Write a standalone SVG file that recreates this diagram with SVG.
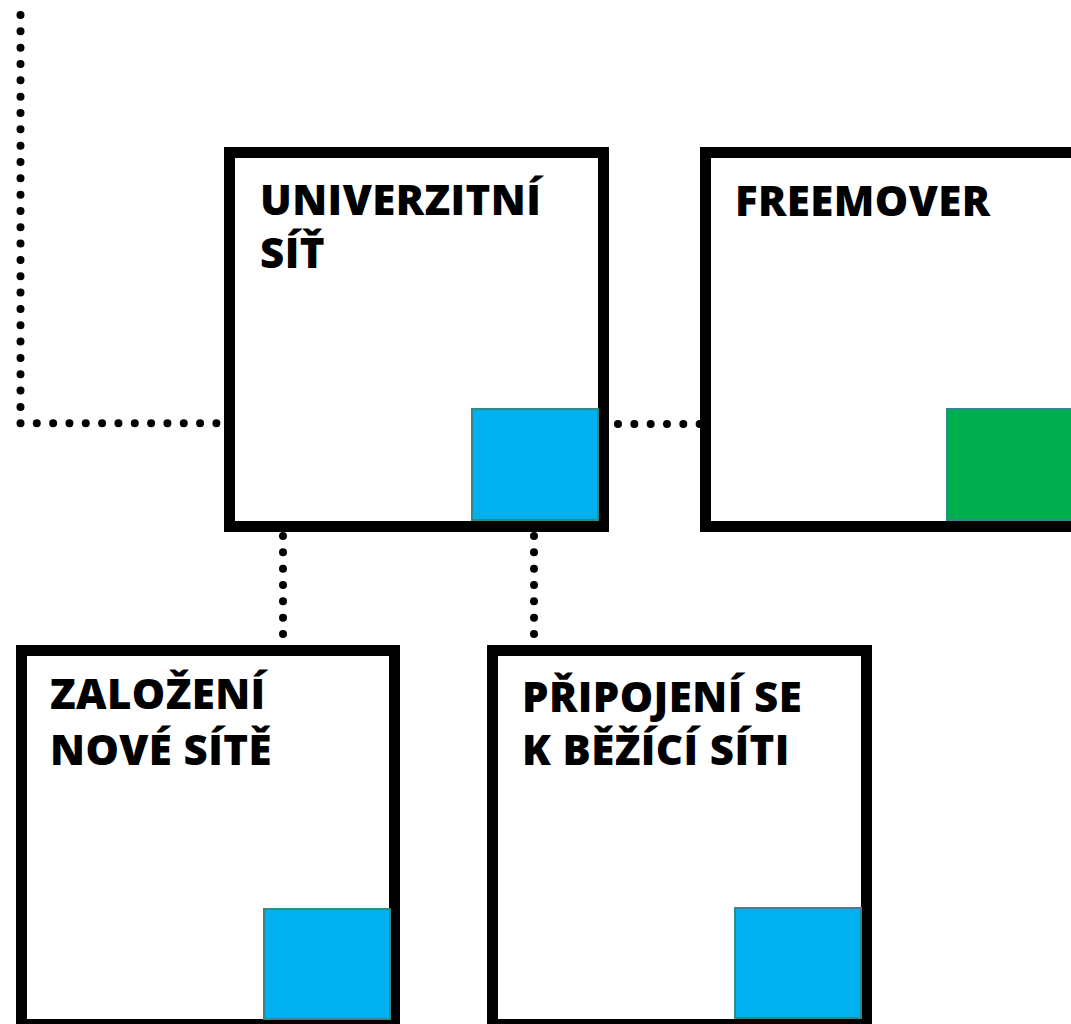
<svg xmlns="http://www.w3.org/2000/svg" width="1071" height="1024" viewBox="0 0 1071 1024">
<style>
.box{fill:#ffffff;stroke:#000000;stroke-width:11}
.blue{fill:#00b0f0;stroke:#2e8b87;stroke-width:2}
.green{fill:#00b050;stroke:#2e8b87;stroke-width:2}
.lbl{font-family:"Open Sans","Liberation Sans",sans-serif;font-weight:800;font-size:42px;letter-spacing:0.4px;fill:#000000}
.dot{fill:none;stroke:#000000;stroke-width:8;stroke-linecap:round;stroke-dasharray:0 16.33}
</style>
<rect width="1071" height="1024" fill="#ffffff"/>
<g id="connectors">
<path class="dot" d="M20.5,15 V423.3 H217"/>
<path class="dot" d="M618,424 H700"/>
<path class="dot" d="M283,536 V635"/>
<path class="dot" d="M534,536 V635"/>
</g>
<g id="node-univerzitni">
<rect class="box" x="229.5" y="152.5" width="374" height="374"/>
<rect class="blue" x="472" y="409" width="126" height="111"/>
<text class="lbl" x="260" y="215">UNIVERZITNÍ</text>
<text class="lbl" x="260" y="268">SÍŤ</text>
</g>
<g id="node-freemover">
<rect class="box" x="705.5" y="152.5" width="400" height="374"/>
<rect class="green" x="947" y="409" width="140" height="111"/>
<text class="lbl" x="735" y="216">FREEMOVER</text>
</g>
<g id="node-zalozeni">
<rect class="box" x="21.5" y="650.5" width="373" height="374"/>
<rect class="blue" x="264" y="909" width="126" height="110"/>
<text class="lbl" x="50" y="709">ZALOŽENÍ</text>
<text class="lbl" x="50" y="765">NOVÉ SÍTĚ</text>
</g>
<g id="node-pripojeni">
<rect class="box" x="492.5" y="650.5" width="374" height="374"/>
<rect class="blue" x="735" y="908" width="126" height="110"/>
<text class="lbl" x="522" y="712">PŘIPOJENÍ SE</text>
<text class="lbl" x="522" y="765">K BĚŽÍCÍ SÍTI</text>
</g>
</svg>
